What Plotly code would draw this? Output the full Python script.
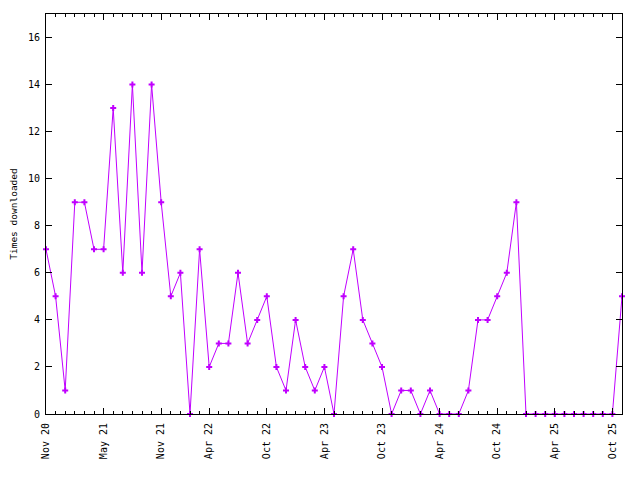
import plotly.graph_objects as go

months = list(range(61))  # month index, Nov 2020 .. Nov 2025
downloads = [7, 5, 1, 9, 9, 7, 7, 13, 6, 14, 6, 14, 9, 5, 6, 0, 7, 2, 3, 3,
             6, 3, 4, 5, 2, 1, 4, 2, 1, 2, 0, 5, 7, 4, 3, 2, 0, 1, 1, 0,
             1, 0, 0, 0, 1, 4, 4, 5, 6, 9, 0, 0, 0, 0, 0, 0, 0, 0, 0, 0, 5]
tick_pos = [0, 6, 12, 17, 23, 29, 35, 41, 47, 53, 59]
tick_text = ["Nov 20", "May 21", "Nov 21", "Apr 22", "Oct 22", "Apr 23",
             "Oct 23", "Apr 24", "Oct 24", "Apr 25", "Oct 25"]
y_ticks = [0, 2, 4, 6, 8, 10, 12, 14, 16]

color = "#c000ff"
font = "DejaVu Sans Mono"

fig = go.Figure()
fig.add_trace(go.Scatter(
    x=months, y=downloads, mode="lines+markers",
    line=dict(color=color, width=1),
    marker=dict(symbol="cross", size=5, color=color),
    cliponaxis=False, showlegend=False,
))

axis_common = dict(
    showline=True, linecolor="black", linewidth=1, mirror="allticks",
    ticks="inside", ticklen=6, tickcolor="black", tickwidth=1,
    showgrid=False, zeroline=False, automargin=False,
    tickfont=dict(family=font, size=10, color="black"),
)

fig.update_xaxes(
    range=[0, 60], tickmode="array", tickvals=tick_pos, ticktext=tick_text,
    tickangle=-90, ticklabelstandoff=4,
    minor=dict(tickvals=months, ticks="inside", ticklen=3, tickcolor="black"),
    **axis_common,
)
fig.update_yaxes(
    range=[0, 17], tickmode="array", tickvals=y_ticks,
    ticklabelstandoff=3,
    title=dict(text="Times downloaded", font=dict(family=font, size=9.5, color="black"), standoff=18),
    **axis_common,
)

fig.update_layout(
    width=632, height=472,
    margin=dict(l=38, r=18, t=6, b=66),
    paper_bgcolor="white", plot_bgcolor="white",
)

fig.write_html("out.html")
